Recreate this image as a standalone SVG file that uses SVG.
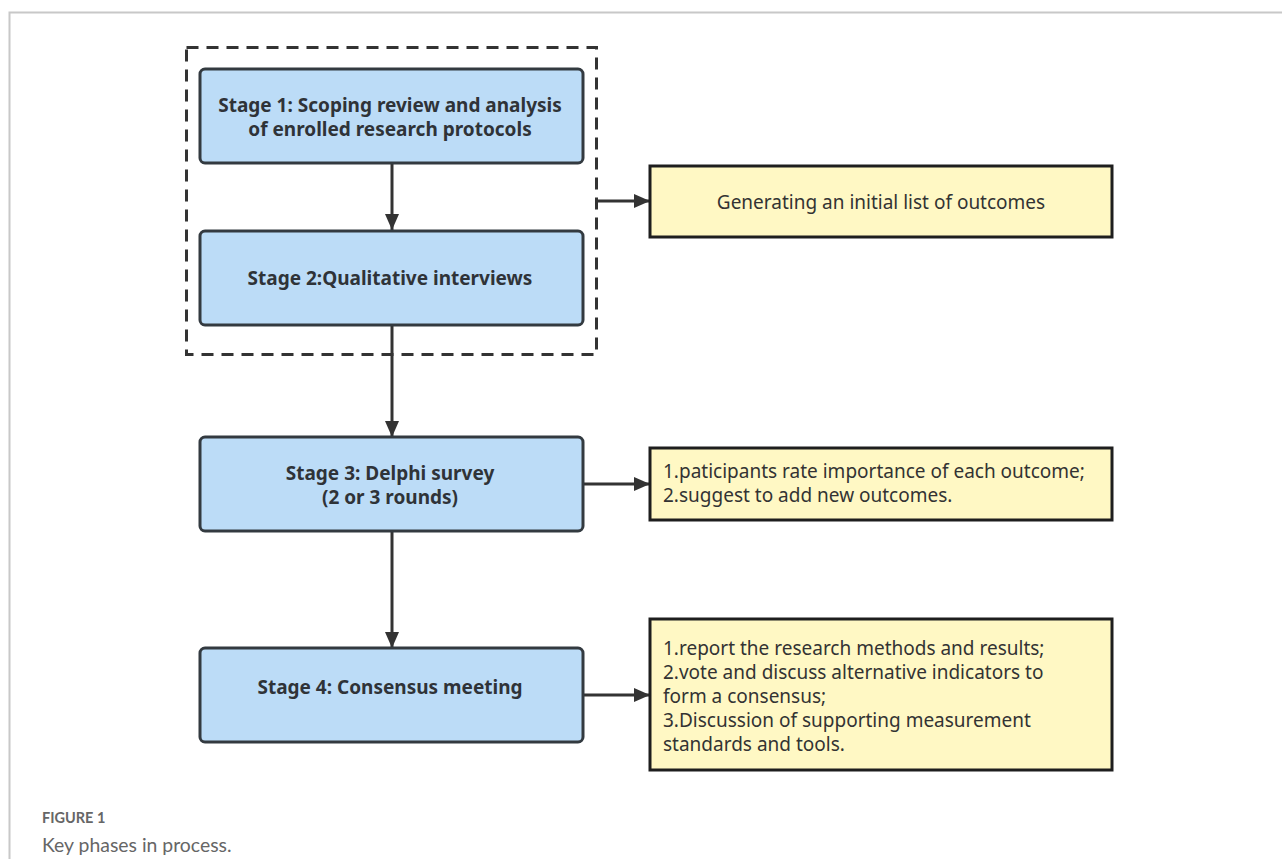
<svg xmlns="http://www.w3.org/2000/svg" width="1282" height="859" viewBox="0 0 1282 859">
<style>
.stage{fill:#bcdcf7;stroke:#333a40;stroke-width:3}
.note{fill:#fff8c4;stroke:#1e1e1e;stroke-width:3}
.st{font-family:"Noto Sans","Open Sans",sans-serif;font-weight:bold;font-size:19px;fill:#2f3338;text-anchor:middle}
.nt{font-family:"Noto Sans","Open Sans",sans-serif;font-size:19px;fill:#333}
.conn{stroke:#333;stroke-width:3;fill:none}
</style>
<defs>
<marker id="ah" viewBox="0 0 16 14" refX="16" refY="7" markerWidth="16" markerHeight="14" markerUnits="userSpaceOnUse" orient="auto">
<path d="M0,0 L16,7 L0,14 Z" fill="#333"/>
</marker>
</defs>
<rect width="1282" height="859" fill="#fff"/>
<path d="M9.5,859 V12.5 H1282" fill="none" stroke="#c8c8c8" stroke-width="2"/>
<rect id="group-box" x="186.5" y="47.5" width="410" height="307" fill="none" stroke="#333" stroke-width="3" stroke-dasharray="12,8"/>
<g id="connectors">
<line class="conn" x1="392" y1="163" x2="392" y2="230" marker-end="url(#ah)"/>
<line class="conn" x1="392" y1="325" x2="392" y2="437" marker-end="url(#ah)"/>
<line class="conn" x1="392" y1="531" x2="392" y2="648" marker-end="url(#ah)"/>
<line class="conn" x1="597" y1="201" x2="650" y2="201" marker-end="url(#ah)"/>
<line class="conn" x1="583" y1="484" x2="650" y2="484" marker-end="url(#ah)"/>
<line class="conn" x1="583" y1="695" x2="650" y2="695" marker-end="url(#ah)"/>
</g>
<g id="stage1">
<rect class="stage" x="200" y="69" width="383" height="94" rx="5"/>
<text class="st" x="390" y="112">Stage 1: Scoping review and analysis</text>
<text class="st" x="390" y="136">of enrolled research protocols</text>
</g>
<g id="stage2">
<rect class="stage" x="200" y="231" width="383" height="94" rx="5"/>
<text class="st" x="390" y="285">Stage 2:Qualitative interviews</text>
</g>
<g id="stage3">
<rect class="stage" x="200" y="437" width="383" height="94" rx="5"/>
<text class="st" x="390" y="480">Stage 3: Delphi survey</text>
<text class="st" x="390" y="504">(2 or 3 rounds)</text>
</g>
<g id="stage4">
<rect class="stage" x="200" y="648" width="383" height="94" rx="5"/>
<text class="st" x="390" y="694">Stage 4: Consensus meeting</text>
</g>
<g id="note1">
<rect class="note" x="650" y="166" width="462" height="71"/>
<text class="nt" x="881" y="209" text-anchor="middle">Generating an initial list of outcomes</text>
</g>
<g id="note2">
<rect class="note" x="650" y="448" width="462" height="72"/>
<text class="nt" x="663" y="478">1.paticipants rate importance of each outcome;</text>
<text class="nt" x="663" y="502">2.suggest to add new outcomes.</text>
</g>
<g id="note3">
<rect class="note" x="650" y="619" width="462" height="151"/>
<text class="nt" x="663" y="655">1.report the research methods and results;</text>
<text class="nt" x="663" y="679">2.vote and discuss alternative indicators to</text>
<text class="nt" x="663" y="703">form a consensus;</text>
<text class="nt" x="663" y="727">3.Discussion of supporting measurement</text>
<text class="nt" x="663" y="751">standards and tools.</text>
</g>
<g id="caption">
<text x="42" y="823" font-family="Lato,'Open Sans',sans-serif" font-size="14.5px" font-weight="bold" fill="#666">FIGURE 1</text>
<text x="42" y="852" font-family="Lato,'Open Sans',sans-serif" font-size="19.4px" fill="#666">Key phases in process.</text>
</g>
</svg>
